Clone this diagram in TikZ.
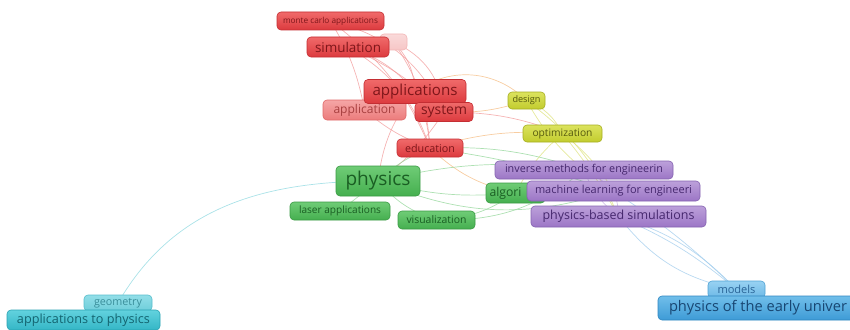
\documentclass[tikz,border=0pt]{standalone}
\usepackage{fontspec}
\setmainfont{Open Sans}
\usetikzlibrary{backgrounds}

% keyword-box palette: T = top, M = bottom, B = border, X = text
\definecolor{krT}{HTML}{F06A6A}\definecolor{krM}{HTML}{DC3A3E}\definecolor{krB}{HTML}{C42E33}\definecolor{krX}{HTML}{7E161A}
\definecolor{klT}{HTML}{F5A6A6}\definecolor{klM}{HTML}{EC7C7C}\definecolor{klB}{HTML}{E06868}\definecolor{klX}{HTML}{A84040}
\definecolor{kfT}{HTML}{FADADA}\definecolor{kfM}{HTML}{F6C6C6}\definecolor{kfB}{HTML}{F2B6B6}
\definecolor{kgT}{HTML}{6FCC76}\definecolor{kgM}{HTML}{45AF4F}\definecolor{kgB}{HTML}{3A9A44}\definecolor{kgX}{HTML}{1A5E23}
\definecolor{kyT}{HTML}{DCE35E}\definecolor{kyM}{HTML}{C2CC2E}\definecolor{kyB}{HTML}{A6AE22}\definecolor{kyX}{HTML}{565A0E}
\definecolor{kpT}{HTML}{BCA0DA}\definecolor{kpM}{HTML}{9C76C6}\definecolor{kpB}{HTML}{8462B0}\definecolor{kpX}{HTML}{46286E}
\definecolor{kbT}{HTML}{70BEEA}\definecolor{kbM}{HTML}{3E9BD6}\definecolor{kbB}{HTML}{2F86C0}\definecolor{kbX}{HTML}{184672}
\definecolor{kBT}{HTML}{98D2F2}\definecolor{kBM}{HTML}{6CB8E6}\definecolor{kBB}{HTML}{4FA2D4}\definecolor{kBX}{HTML}{2A6496}
\definecolor{kcT}{HTML}{62D2DE}\definecolor{kcM}{HTML}{34B6C6}\definecolor{kcB}{HTML}{2AA2B2}\definecolor{kcX}{HTML}{136470}
\definecolor{kCT}{HTML}{92DEE8}\definecolor{kCM}{HTML}{6ECEDA}\definecolor{kCB}{HTML}{58BECC}\definecolor{kCX}{HTML}{3A8E9A}
% link colours
\definecolor{lr}{HTML}{F29A9A}\definecolor{lo}{HTML}{F5BC82}\definecolor{ly}{HTML}{DDE27A}
\definecolor{lg}{HTML}{92D698}\definecolor{lb}{HTML}{A0CCEC}\definecolor{lc}{HTML}{8ED8E0}
\definecolor{lp}{HTML}{C8B0E2}

\newcommand\fw[2]{\resizebox{#1pt}{!}{#2}}

\tikzset{
  kw/.style={rounded corners=4pt, inner sep=0pt, line width=0.6pt},
  kred/.style={kw, draw=krB, top color=krT, bottom color=krM, text=krX},
  klight/.style={kw, draw=klB, top color=klT, bottom color=klM, text=klX},
  kfaint/.style={kw, draw=kfB, top color=kfT, bottom color=kfM},
  kgreen/.style={kw, draw=kgB, top color=kgT, bottom color=kgM, text=kgX},
  kyel/.style={kw, draw=kyB, top color=kyT, bottom color=kyM, text=kyX},
  kpur/.style={kw, draw=kpB, top color=kpT, bottom color=kpM, text=kpX},
  kblue/.style={kw, draw=kbB, top color=kbT, bottom color=kbM, text=kbX},
  kbl/.style={kw, draw=kBB, top color=kBT, bottom color=kBM, text=kBX},
  kcyan/.style={kw, draw=kcB, top color=kcT, bottom color=kcM, text=kcX},
  kcl/.style={kw, draw=kCB, top color=kCT, bottom color=kCM, text=kCX},
  lnk/.style={line width=0.7pt, opacity=0.75},
}

\begin{document}
\begin{tikzpicture}[x=1pt,y=-1pt]
\useasboundingbox (0,0) rectangle (850,329);
\clip (0,0) rectangle (850,329);

% ---- keyword boxes (back to front) ----
\node[kfaint, minimum width=27pt, minimum height=16pt] (faint) at (393.5,42) {};
\node[kred, minimum width=107pt, minimum height=18pt] (monte) at (330.5,21) {\fw{95}{monte carlo applications}};
\node[kred, minimum width=82pt, minimum height=20pt] (sim) at (348,47) {\fw{66}{simulation}};
\node[klight, minimum width=83pt, minimum height=20pt] (appl) at (364.5,110) {\fw{62}{application}};
\node[kred, minimum width=102pt, minimum height=24pt] (apps) at (415,91.5) {\fw{85}{applications}};
\node[kred, minimum width=58pt, minimum height=19pt] (sys) at (444,112) {\fw{46}{system}};
\node[kred, minimum width=66pt, minimum height=18pt] (edu) at (430,148) {\fw{50}{education}};
\node[kyel, minimum width=37pt, minimum height=17pt] (design) at (526.5,100.5) {\fw{28}{design}};
\node[kyel, minimum width=79pt, minimum height=17pt] (opt) at (562.5,133.5) {\fw{60}{optimization}};
\node[kgreen, minimum width=84pt, minimum height=30pt] (phys) at (378,181) {\fw{65}{physics}};
\node[kgreen, minimum width=100pt, minimum height=18pt] (laser) at (340,211) {\fw{82}{laser applications}};
\node[kgreen, minimum width=77pt, minimum height=18pt] (vis) at (436.5,220) {\fw{60}{visualization}};
\node[kgreen, minimum width=59pt, minimum height=20pt, text width=50pt, align=left] (alg) at (515.5,193) {\hspace*{-1pt}\fw{32}{algori}};
\node[kpur, minimum width=178pt, minimum height=18pt] (inv) at (584,170) {\fw{158}{inverse methods for engineerin}};
\node[kpur, minimum width=173pt, minimum height=20pt] (ml) at (613.5,191) {\fw{157}{machine learning for engineeri}};
\node[kpur, minimum width=175pt, minimum height=21pt] (pbs) at (618.5,216.5) {\fw{152}{physics-based simulations}};
\node[kbl, minimum width=57pt, minimum height=17pt] (models) at (736.5,289.5) {\fw{38}{models}};
\node[kblue, minimum width=200pt, minimum height=24pt] (univ) at (758,308) {\fw{178}{physics of the early univer}};
\node[kcl, minimum width=68pt, minimum height=16pt] (geom) at (118,303) {\fw{48}{geometry}};
\node[kcyan, minimum width=153pt, minimum height=20pt] (atp) at (83.5,320) {\fw{133}{applications to physics}};

% ---- links, behind the boxes ----
\begin{pgfonlayer}{background}
  % red cluster
  \draw[lnk, lr] (monte.center) to[bend left=25] (sys.center);
  \draw[lnk, lr] (monte.center) to[bend left=10] (appl.center);
  \draw[lnk, lr] (monte.center) to[bend left=15] (edu.center);
  \draw[lnk, lr] (faint.center) to[bend left=20] (apps.center);
  \draw[lnk, lr] (faint.center) to[bend left=30] (sys.center);
  \draw[lnk, lr] (faint.center) to[bend left=15] (edu.center);
  \draw[lnk, lr] (sim.center) to[bend left=20] (edu.center);
  \draw[lnk, lr] (sim.center) to[bend left=15] (apps.center);
  \draw[lnk, lr] (sim.center) to[bend left=10] (sys.center);
  \draw[lnk, lr] (apps.center) to[bend right=15] (phys.center);
  \draw[lnk, lr] (sys.center) to[bend left=10] (phys.center);
  \draw[lnk, lr] (appl.center) to[bend right=10] (edu.center);
  \draw[lnk, lr] (sys.center) to[bend left=10] (opt.center);
  \draw[lnk, lr] (apps.center) to[bend left=10] (edu.center);
  % orange links to the yellow cluster
  \draw[lnk, lo] (apps.center) to[bend left=40] (design.center);
  \draw[lnk, lo] (sys.center) to[bend right=10] (design.center);
  \draw[lnk, lo] (edu.center) to[bend left=10] (opt.center);
  \draw[lnk, lo] (edu.center) to[bend right=15] (alg.center);
  % yellow cluster
  \draw[lnk, ly] (design.center) to[bend left=20] (opt.center);
  \draw[lnk, ly] (design.center) to[bend right=10] (inv.center);
  \draw[lnk, ly] (design.center) to[bend left=15] (pbs.center);
  \draw[lnk, ly] (opt.center) to[bend right=10] (alg.center);
  \draw[lnk, ly] (opt.center) to[bend left=10] (ml.center);
  \draw[lnk, ly] (opt.center) to[bend left=5] (pbs.center);
  % green cluster
  \draw[lnk, lg] (phys.center) to[bend left=10] (inv.center);
  \draw[lnk, lg] (phys.center) to[bend right=10] (alg.center);
  \draw[lnk, lg] (phys.center) to[bend right=15] (vis.center);
  \draw[lnk, lg] (phys.center) to (laser.center);
  \draw[lnk, lg] (phys.center) to[bend left=10] (edu.center);
  \draw[lnk, lg] (phys.center) to[bend right=20] (ml.center);
  \draw[lnk, lg] (vis.center) to[bend right=15] (alg.center);
  \draw[lnk, lg] (vis.center) to[bend right=20] (inv.center);
  \draw[lnk, lg] (edu.center) to[bend left=10] (inv.center);
  \draw[lnk, lg] (edu.center) to[bend left=5] (ml.center);
  % purple cluster
  \draw[lnk, lp] (inv.center) to[bend left=10] (ml.center);
  \draw[lnk, lp] (ml.center) to[bend left=10] (pbs.center);
  \draw[lnk, lp] (inv.center) to[bend right=15] (pbs.center);
  % blue cluster
  \draw[lnk, lb] (pbs.center) to[bend left=8] (models.center);
  \draw[lnk, lb] (pbs.center) to[bend left=14] (models.center);
  \draw[lnk, lb] (pbs.center) to[bend right=20] (models.center);
  \draw[lnk, lb] (ml.center) to[bend left=5] (models.center);
  % cyan link
  \draw[lnk, lc] (geom.center) to[out=60, in=180] (phys.center);
\end{pgfonlayer}
\end{tikzpicture}
\end{document}
